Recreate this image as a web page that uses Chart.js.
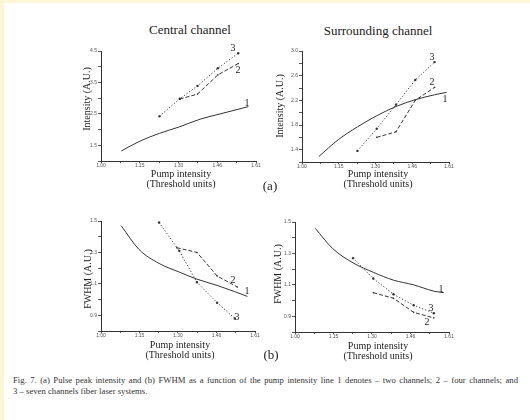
<!DOCTYPE html>
<html>
<head>
<meta charset="utf-8">
<script src="https://cdn.jsdelivr.net/npm/chart.js@4.4.1/dist/chart.umd.min.js"></script>
<style>
  html,body{margin:0;padding:0;background:#fff;}
  #wrap{position:relative;width:530px;height:420px;overflow:hidden;background:#fff;font-family:"Liberation Serif","DejaVu Serif",serif;color:#222;}
  canvas{position:absolute;}
  .t{position:absolute;white-space:nowrap;transform:translate(-50%,-50%);line-height:1;}
  .rot{transform:translate(-50%,-50%) rotate(-90deg);}
  .edge{position:absolute;background:#fbf7d6;}
</style>
</head>
<body>
<div id="wrap">
  <div class="edge" style="left:0;top:0;width:530px;height:3px;"></div>
  <div class="edge" style="left:0;top:0;width:4px;height:420px;"></div>

  <canvas id="c1" width="195" height="128" style="left:71px;top:43px;"></canvas>
  <canvas id="c2" width="187" height="129" style="left:272px;top:43px;"></canvas>
  <canvas id="c3" width="194" height="128" style="left:71px;top:213px;"></canvas>
  <canvas id="c4" width="194" height="128" style="left:265px;top:214px;"></canvas>

  <div class="t" style="left:190px;top:29px;font-size:13px;">Central channel</div>
  <div class="t" style="left:378px;top:30px;font-size:13px;">Surrounding channel</div>

  <div class="t rot" style="left:87px;top:99px;font-size:10px;">Intensity (A.U.)</div>
  <div class="t rot" style="left:280px;top:106px;font-size:10px;">Intensity (A.U.)</div>
  <div class="t rot" style="left:88px;top:279px;font-size:10px;">FWHM (A.U.)</div>
  <div class="t rot" style="left:278px;top:274px;font-size:10px;">FWHM (A.U.)</div>

  <div class="t" style="left:181px;top:174px;font-size:10px;">Pump intensity</div>
  <div class="t" style="left:181px;top:184px;font-size:10px;">(Threshold units)</div>
  <div class="t" style="left:378px;top:174px;font-size:10px;">Pump intensity</div>
  <div class="t" style="left:378px;top:184px;font-size:10px;">(Threshold units)</div>
  <div class="t" style="left:180px;top:345px;font-size:10px;">Pump intensity</div>
  <div class="t" style="left:180px;top:355px;font-size:10px;">(Threshold units)</div>
  <div class="t" style="left:378px;top:346px;font-size:10px;">Pump intensity</div>
  <div class="t" style="left:378px;top:356px;font-size:10px;">(Threshold units)</div>

  <div class="t" style="left:270px;top:185px;font-size:13px;">(a)</div>
  <div class="t" style="left:271px;top:354px;font-size:13px;">(b)</div>

  <div class="t" style="left:233px;top:48px;font-size:10px;">3</div>
  <div class="t" style="left:238px;top:70px;font-size:10px;">2</div>
  <div class="t" style="left:247px;top:103px;font-size:10px;">1</div>
  <div class="t" style="left:432px;top:57px;font-size:10px;">3</div>
  <div class="t" style="left:432px;top:82px;font-size:10px;">2</div>
  <div class="t" style="left:445px;top:99px;font-size:10px;">1</div>
  <div class="t" style="left:233px;top:280px;font-size:10px;">2</div>
  <div class="t" style="left:247px;top:291px;font-size:10px;">1</div>
  <div class="t" style="left:237px;top:317px;font-size:10px;">3</div>
  <div class="t" style="left:441px;top:289px;font-size:10px;">1</div>
  <div class="t" style="left:431px;top:308px;font-size:10px;">3</div>
  <div class="t" style="left:427px;top:322px;font-size:10px;">2</div>

  <div style="position:absolute;left:13px;top:375px;font-size:8.7px;line-height:11px;color:#333;width:505px;text-align:justify;text-align-last:left;">
    <span style="display:block;text-align-last:justify;">Fig. 7. (a) Pulse peak intensity and (b) FWHM as a function of the pump intensity line 1 denotes – two channels; 2 – four channels; and</span>
    <span style="display:block;">3 – seven channels fiber laser systems.</span>
  </div>
</div>
<script>
// ---- tick labels ----
const xTickValues = [1.0, 1.07625, 1.1525, 1.22875, 1.305, 1.38125, 1.4575, 1.53375, 1.61];
const xTickLabels = ["1.00", "", "1.15", "", "1.30", "", "1.46", "", "1.61"];

const cenIntYTicks = [1.0, 1.5, 2.0, 2.5, 3.0, 3.5, 4.0, 4.5];
const cenIntYLabels = ["", "1.5", "", "2.5", "", "3.5", "", "4.5"];
const surIntYTicks = [1.2, 1.4, 1.6, 1.8, 2.0, 2.2, 2.4, 2.6, 2.8, 3.0];
const surIntYLabels = ["", "1.4", "", "1.8", "", "2.2", "", "2.6", "", "3.0"];
const fwYTicks = [0.8, 0.9, 1.0, 1.1, 1.2, 1.3, 1.4, 1.5];
const fwYLabels = ["", "0.9", "", "1.1", "", "1.3", "", "1.5"];

// ---- Central channel intensity ----
const cenIntX1 = [1.08, 1.15, 1.23, 1.31, 1.39, 1.46, 1.58];
const cenIntY1 = [1.32, 1.62, 1.88, 2.09, 2.33, 2.48, 2.73];
const cenIntX2 = [1.31, 1.38, 1.46, 1.54];
const cenIntY2 = [2.97, 3.13, 3.74, 4.10];
const cenIntX3 = [1.23, 1.31, 1.38, 1.46, 1.54];
const cenIntY3 = [2.42, 2.98, 3.39, 3.95, 4.43];

// ---- Surrounding channel intensity ----
const surIntX1 = [1.07, 1.15, 1.23, 1.31, 1.39, 1.47, 1.55, 1.60];
const surIntY1 = [1.29, 1.56, 1.77, 1.95, 2.10, 2.21, 2.29, 2.33];
const surIntX2 = [1.31, 1.39, 1.47, 1.55];
const surIntY2 = [1.60, 1.69, 2.20, 2.41];
const surIntX3 = [1.23, 1.31, 1.39, 1.47, 1.55];
const surIntY3 = [1.38, 1.74, 2.13, 2.53, 2.82];

// ---- Central channel FWHM ----
const cenFwX1 = [1.08, 1.15, 1.23, 1.31, 1.38, 1.46, 1.53, 1.58];
const cenFwY1 = [1.47, 1.32, 1.23, 1.175, 1.13, 1.09, 1.05, 1.02];
const cenFwX2 = [1.30, 1.38, 1.46, 1.54];
const cenFwY2 = [1.33, 1.30, 1.15, 1.08];
const cenFwX3 = [1.23, 1.31, 1.38, 1.46, 1.53];
const cenFwY3 = [1.49, 1.31, 1.11, 0.98, 0.88];

// ---- Surrounding channel FWHM ----
const surFwX1 = [1.08, 1.15, 1.23, 1.31, 1.39, 1.47, 1.55, 1.59];
const surFwY1 = [1.46, 1.33, 1.24, 1.18, 1.13, 1.10, 1.06, 1.05];
const surFwX2 = [1.31, 1.39, 1.47, 1.55];
const surFwY2 = [1.05, 1.015, 0.925, 0.89];
const surFwX3 = [1.23, 1.31, 1.39, 1.47, 1.55];
const surFwY3 = [1.27, 1.14, 1.04, 0.97, 0.92];

const pts = (xs, ys) => xs.map((x, i) => ({x: x, y: ys[i]}));
const INK = '#333';

function series(x1, y1, x2, y2, x3, y3) {
  return [
    {data: pts(x1, y1), borderColor: INK, borderWidth: 1, pointRadius: 0, cubicInterpolationMode: 'monotone', fill: false},
    {data: pts(x2, y2), borderColor: INK, borderWidth: 1, borderDash: [4, 2], pointRadius: 0.8, pointBackgroundColor: INK, pointBorderWidth: 0, tension: 0, fill: false},
    {data: pts(x3, y3), borderColor: INK, borderWidth: 1, borderDash: [1.2, 2], pointRadius: 1.2, pointBackgroundColor: INK, pointBorderWidth: 0, tension: 0, fill: false}
  ];
}

function makeChart(id, yMin, yMax, yTicks, yLabels, datasets) {
  new Chart(document.getElementById(id), {
    type: 'line',
    data: {datasets: datasets},
    options: {
      responsive: false, animation: false, devicePixelRatio: 1,
      layout: {padding: {top: 8, right: 10, left: 0, bottom: 0}},
      plugins: {legend: {display: false}, tooltip: {enabled: false}},
      scales: {
        x: {
          type: 'linear', min: 1.0, max: 1.61,
          afterBuildTicks: s => { s.ticks = xTickValues.map(v => ({value: v})); },
          afterFit: s => { s.height = 10; },
          ticks: {autoSkip: false, maxRotation: 0, minRotation: 0, font: {size: 5, family: 'Liberation Sans'}, color: '#555', padding: 0,
                  callback: (v, i) => xTickLabels[i]},
          grid: {drawOnChartArea: false, drawTicks: true, tickLength: 2, color: '#555'},
          border: {color: '#333', width: 1}
        },
        y: {
          type: 'linear', min: yMin, max: yMax,
          afterBuildTicks: s => { s.ticks = yTicks.map(v => ({value: v})); },
          afterFit: s => { s.width = 30; },
          ticks: {autoSkip: false, font: {size: 5, family: 'Liberation Sans'}, color: '#555', padding: 1,
                  callback: (v, i) => yLabels[i]},
          grid: {drawOnChartArea: false, drawTicks: true, tickLength: 3, color: '#555'},
          border: {color: '#333', width: 1}
        }
      }
    }
  });
}

makeChart('c1', 1.0, 4.5, cenIntYTicks, cenIntYLabels, series(cenIntX1, cenIntY1, cenIntX2, cenIntY2, cenIntX3, cenIntY3));
makeChart('c2', 1.2, 3.0, surIntYTicks, surIntYLabels, series(surIntX1, surIntY1, surIntX2, surIntY2, surIntX3, surIntY3));
makeChart('c3', 0.8, 1.5, fwYTicks, fwYLabels, series(cenFwX1, cenFwY1, cenFwX2, cenFwY2, cenFwX3, cenFwY3));
makeChart('c4', 0.8, 1.5, fwYTicks, fwYLabels, series(surFwX1, surFwY1, surFwX2, surFwY2, surFwX3, surFwY3));
</script>
</body>
</html>
